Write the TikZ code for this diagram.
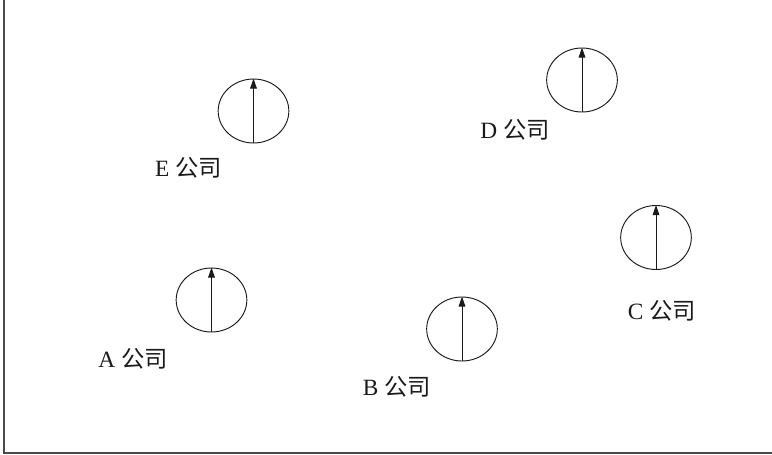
\documentclass[tikz,border=0pt]{standalone}
\usepackage{fontspec}
\setmainfont{Liberation Serif}
\newfontfamily\cjk{Noto Sans CJK SC}
\usetikzlibrary{shapes.geometric, arrows.meta, positioning}
\definecolor{axisgray}{HTML}{4A4A4A}
\definecolor{inkline}{HTML}{1A1A1A}
\tikzset{
  firm/.style={draw=inkline, ellipse, line width=0.7pt, minimum width=53pt, minimum height=48pt, inner sep=0pt},
  firmlabel/.style={text=inkline, font=\fontsize{17.5}{21}\selectfont, inner sep=0pt},
  heading/.style={draw=inkline, line width=0.7pt, -{Triangle[length=7.5pt, width=5pt]}},
  axisline/.style={draw=axisgray, line width=1.2pt}
}
\newcommand{\firmname}[1]{#1 {\cjk 公司}}

\begin{document}
\begin{tikzpicture}[x=0.75pt, y=-0.75pt]
\useasboundingbox (0,0) rectangle (772,454);
% axes
\coordinate (top) at (4,0);
\coordinate (origin) at (4,453);
\coordinate (right) at (772,453);
\draw[axisline] (top) -- (origin) -- (right);

% companies
\node[firm] (firmE) at (253.5,111) {};
\node[firm] (firmD) at (582,80) {};
\node[firm] (firmC) at (656,237.5) {};
\node[firm] (firmA) at (211.5,300) {};
\node[firm] (firmB) at (462,329) {};

\foreach \f in {A,B,C,D,E}
  \draw[heading] (firm\f.south) -- (firm\f.north);

% labels
\node[firmlabel] (labE) at (188.5,168) {\firmname{E}};
\node[firmlabel] (labD) at (515,130) {\firmname{D}};
\node[firmlabel] (labC) at (662,311) {\firmname{C}};
\node[firmlabel] (labA) at (133,359) {\firmname{A}};
\node[firmlabel] (labB) at (397,387) {\firmname{B}};
\end{tikzpicture}
\end{document}
